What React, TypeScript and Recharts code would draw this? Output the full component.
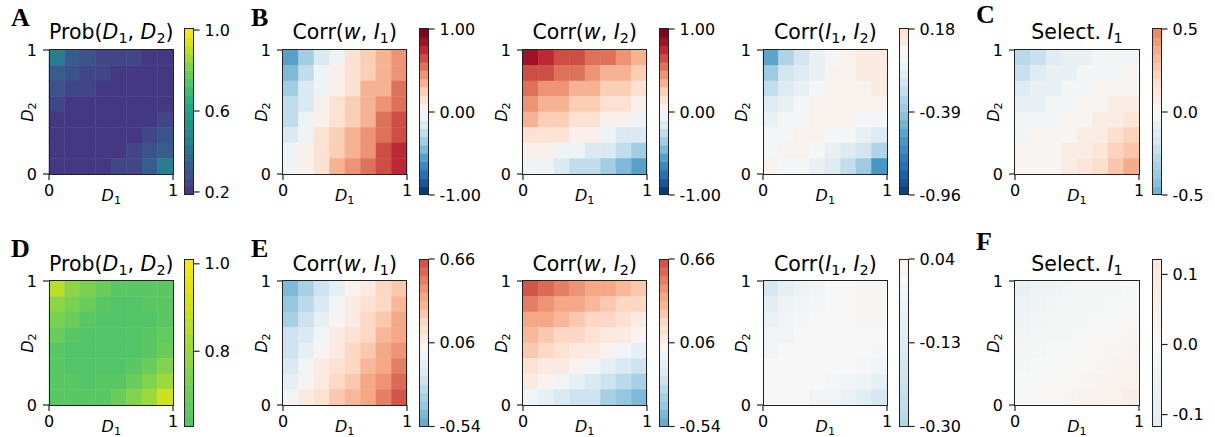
import React from 'react';
import { ScatterChart, Scatter, XAxis, YAxis } from 'recharts';

// centres of the 8x8 grid cells along D1 and D2
const GRID_POS = [0.0625, 0.1875, 0.3125, 0.4375, 0.5625, 0.6875, 0.8125, 0.9375];

// every grid: rows go from D2 = 1 (top) down to D2 = 0, columns D1 = 0 -> 1
const probTop = [
  [0.45, 0.34, 0.28, 0.25, 0.235, 0.23, 0.225, 0.225],
  [0.34, 0.28, 0.25, 0.235, 0.225, 0.215, 0.22, 0.225],
  [0.28, 0.25, 0.235, 0.21, 0.2, 0.2, 0.21, 0.22],
  [0.24, 0.225, 0.21, 0.2, 0.2, 0.2, 0.205, 0.215],
  [0.215, 0.205, 0.2, 0.2, 0.2, 0.2, 0.21, 0.23],
  [0.205, 0.2, 0.2, 0.2, 0.2, 0.21, 0.235, 0.27],
  [0.2, 0.2, 0.2, 0.205, 0.22, 0.24, 0.28, 0.34],
  [0.2, 0.2, 0.205, 0.215, 0.235, 0.26, 0.32, 0.46],
];
const corrWI1Top = [
  [-0.52, -0.31, -0.14, -0.01, 0.1, 0.21, 0.31, 0.42],
  [-0.44, -0.24, -0.09, 0.035, 0.14, 0.25, 0.36, 0.47],
  [-0.36, -0.18, -0.03, 0.08, 0.19, 0.3, 0.4, 0.51],
  [-0.28, -0.12, 0.01, 0.12, 0.23, 0.34, 0.45, 0.56],
  [-0.21, -0.06, 0.055, 0.17, 0.28, 0.39, 0.5, 0.61],
  [-0.15, -0.01, 0.1, 0.21, 0.32, 0.44, 0.55, 0.66],
  [-0.09, 0.03, 0.15, 0.26, 0.37, 0.49, 0.6, 0.71],
  [-0.04, 0.08, 0.19, 0.31, 0.42, 0.54, 0.65, 0.77],
];
const corrWI2Top = [
  [0.8, 0.72, 0.66, 0.61, 0.56, 0.51, 0.45, 0.38],
  [0.66, 0.6, 0.55, 0.5, 0.45, 0.4, 0.34, 0.27],
  [0.54, 0.49, 0.44, 0.39, 0.34, 0.29, 0.23, 0.17],
  [0.42, 0.37, 0.32, 0.28, 0.23, 0.18, 0.12, 0.06],
  [0.31, 0.26, 0.21, 0.17, 0.12, 0.07, 0.01, -0.05],
  [0.19, 0.15, 0.1, 0.055, 0.01, -0.04, -0.11, -0.18],
  [0.08, 0.03, -0.01, -0.06, -0.12, -0.19, -0.27, -0.36],
  [-0.04, -0.09, -0.15, -0.21, -0.28, -0.37, -0.47, -0.58],
];
const corrI1I2Top = [
  [-0.55, -0.3, -0.17, -0.08, -0.01, 0.06, 0.09, 0.12],
  [-0.35, -0.2, -0.11, -0.05, 0.01, 0.06, 0.08, 0.1],
  [-0.22, -0.13, -0.07, -0.02, 0.02, 0.05, 0.06, 0.07],
  [-0.14, -0.08, -0.03, 0.01, 0.03, 0.04, 0.04, 0.03],
  [-0.09, -0.04, 0.0, 0.03, 0.03, 0.02, 0.0, -0.04],
  [-0.04, 0.0, 0.02, 0.02, 0.0, -0.03, -0.07, -0.12],
  [-0.01, 0.02, 0.01, -0.02, -0.06, -0.11, -0.18, -0.28],
  [0.01, 0.0, -0.03, -0.08, -0.14, -0.22, -0.34, -0.58],
];
const selectTop = [
  [-0.3, -0.2, -0.13, -0.09, -0.06, -0.04, -0.02, -0.01],
  [-0.2, -0.14, -0.1, -0.07, -0.04, -0.02, -0.01, 0.01],
  [-0.13, -0.1, -0.07, -0.04, -0.02, 0.0, 0.02, 0.04],
  [-0.08, -0.06, -0.04, -0.02, 0.0, 0.03, 0.05, 0.08],
  [-0.04, -0.03, -0.01, 0.01, 0.03, 0.06, 0.1, 0.14],
  [-0.02, 0.0, 0.01, 0.03, 0.06, 0.1, 0.15, 0.21],
  [0.0, 0.01, 0.03, 0.05, 0.09, 0.14, 0.21, 0.29],
  [0.01, 0.02, 0.04, 0.07, 0.12, 0.18, 0.27, 0.38],
];

const probBottom = [
  [0.86, 0.78, 0.73, 0.69, 0.665, 0.655, 0.66, 0.665],
  [0.78, 0.73, 0.69, 0.66, 0.645, 0.64, 0.65, 0.66],
  [0.73, 0.69, 0.66, 0.645, 0.64, 0.64, 0.645, 0.665],
  [0.69, 0.66, 0.645, 0.64, 0.64, 0.64, 0.65, 0.68],
  [0.665, 0.645, 0.64, 0.64, 0.64, 0.645, 0.665, 0.7],
  [0.655, 0.645, 0.64, 0.64, 0.645, 0.665, 0.7, 0.745],
  [0.655, 0.65, 0.645, 0.65, 0.665, 0.7, 0.75, 0.81],
  [0.66, 0.655, 0.655, 0.665, 0.7, 0.745, 0.81, 0.91],
];
const corrWI1Bottom = [
  [-0.46, -0.32, -0.19, -0.08, 0.01, 0.1, 0.19, 0.27],
  [-0.38, -0.25, -0.13, -0.03, 0.06, 0.14, 0.23, 0.32],
  [-0.31, -0.19, -0.076, 0.02, 0.1, 0.19, 0.28, 0.37],
  [-0.24, -0.13, -0.026, 0.06, 0.15, 0.24, 0.33, 0.41],
  [-0.18, -0.07, 0.02, 0.11, 0.2, 0.28, 0.37, 0.46],
  [-0.12, -0.02, 0.07, 0.16, 0.24, 0.33, 0.42, 0.51],
  [-0.065, 0.03, 0.11, 0.2, 0.29, 0.38, 0.46, 0.55],
  [-0.015, 0.07, 0.16, 0.25, 0.34, 0.42, 0.51, 0.6],
];
const corrWI2Bottom = [
  [0.6, 0.55, 0.51, 0.46, 0.41, 0.37, 0.32, 0.27],
  [0.51, 0.46, 0.42, 0.37, 0.33, 0.28, 0.23, 0.19],
  [0.42, 0.38, 0.33, 0.28, 0.24, 0.19, 0.14, 0.1],
  [0.34, 0.29, 0.24, 0.2, 0.15, 0.1, 0.06, 0.01],
  [0.25, 0.2, 0.16, 0.11, 0.06, 0.02, -0.03, -0.08],
  [0.16, 0.11, 0.07, 0.02, -0.026, -0.076, -0.13, -0.19],
  [0.07, 0.03, -0.02, -0.07, -0.13, -0.19, -0.25, -0.32],
  [-0.015, -0.065, -0.12, -0.18, -0.24, -0.31, -0.38, -0.46],
];
const corrI1I2Bottom = [
  [-0.17, -0.09, -0.05, -0.03, -0.01, 0.0, 0.01, 0.02],
  [-0.11, -0.06, -0.04, -0.02, -0.01, 0.0, 0.01, 0.01],
  [-0.07, -0.04, -0.02, -0.01, 0.0, 0.0, 0.01, 0.01],
  [-0.04, -0.03, -0.01, 0.0, 0.0, 0.0, 0.0, 0.0],
  [-0.03, -0.01, 0.0, 0.0, 0.0, 0.0, -0.01, -0.02],
  [-0.01, 0.0, 0.0, 0.0, 0.0, -0.01, -0.02, -0.04],
  [0.0, 0.0, 0.0, -0.01, -0.02, -0.04, -0.06, -0.09],
  [0.0, 0.0, -0.01, -0.03, -0.04, -0.07, -0.1, -0.17],
];
const selectBottom = [
  [-0.07, -0.05, -0.04, -0.03, -0.02, -0.01, -0.01, 0.0],
  [-0.05, -0.04, -0.03, -0.02, -0.01, -0.01, 0.0, 0.0],
  [-0.04, -0.03, -0.02, -0.01, -0.01, 0.0, 0.0, 0.01],
  [-0.03, -0.02, -0.01, -0.01, 0.0, 0.01, 0.01, 0.02],
  [-0.02, -0.01, 0.0, 0.0, 0.01, 0.01, 0.02, 0.03],
  [-0.01, 0.0, 0.0, 0.01, 0.01, 0.02, 0.03, 0.04],
  [0.0, 0.0, 0.01, 0.01, 0.02, 0.03, 0.04, 0.05],
  [0.0, 0.01, 0.01, 0.02, 0.03, 0.04, 0.05, 0.07],
];

// colorbar ranges and tick labels
const CB_RANGES: [number, number][] = [
  [0.185, 1.005], [-1, 1], [-1, 1], [-0.96, 0.18], [-0.5, 0.5],
  [0.628, 1.011], [-0.54, 0.66], [-0.54, 0.66], [-0.3, 0.04], [-0.117, 0.122],
];
const CB_TICKS = [
  [0.2, 0.6, 1.0], [-1, 0, 1], [-1, 0, 1], [-0.96, -0.39, 0.18], [-0.5, 0, 0.5],
  [0.8, 1.0], [-0.54, 0.06, 0.66], [-0.54, 0.06, 0.66], [-0.3, -0.13, 0.04], [-0.1, 0, 0.1],
];
const CB_DECIMALS = [1, 2, 2, 2, 1, 1, 2, 2, 2, 1];
const LETTERS = ['A', 'B', '', '', 'C', 'D', 'E', '', '', 'F'];
const TITLES = ['prob', 'wI1', 'wI2', 'I1I2', 'sel', 'prob', 'wI1', 'wI2', 'I1I2', 'sel'];
const GRIDS = [
  probTop, corrWI1Top, corrWI2Top, corrI1I2Top, selectTop,
  probBottom, corrWI1Bottom, corrWI2Bottom, corrI1I2Bottom, selectBottom,
];

const VIRIDIS = [
  '#440154', '#471365', '#482475', '#463480', '#414487', '#3b528b', '#355f8d',
  '#2f6c8e', '#2a788e', '#25848e', '#21918c', '#1e9c89', '#22a884', '#2fb47c',
  '#44bf70', '#5ec962', '#7ad151', '#9bd93c', '#bddf26', '#dfe318', '#fde725',
];
const RDBU_R = [
  '#053061', '#2166ac', '#4393c3', '#92c5de', '#d1e5f0', '#f7f7f7',
  '#fddbc7', '#f4a582', '#d6604d', '#b2182b', '#67001f',
];
// colour normalisation of each panel (matplotlib vmin / vmax)
const NORMS: [number, number][] = [
  [0.05, 1.0], [-1, 1], [-1, 1], [-1, 1], [-1, 1],
  [-0.36, 1.01], [-1, 1], [-1, 1], [-1, 1], [-1, 1],
];

const hex = (h: string) => [1, 3, 5].map((i) => parseInt(h.slice(i, i + 2), 16));
function sampleMap(stops: string[], t: number) {
  const tt = Math.max(0, Math.min(1, t)) * (stops.length - 1);
  const i = Math.min(stops.length - 2, Math.floor(tt));
  const f = tt - i;
  const a = hex(stops[i]);
  const b = hex(stops[i + 1]);
  const c = a.map((v, k) => Math.round(v + (b[k] - v) * f));
  return `rgb(${c[0]},${c[1]},${c[2]})`;
}

const N_LEVELS = 20;
const PLOT = 124;
const CELL = PLOT / GRID_POS.length;
const Y_W = 50;
const TOP_PAD = 14;
const CB_W = 9.6;

const COL_LEFT = [49.3, 282.7, 522.7, 763.3, 1015];
const ROW_TOP = [50, 281];
const CB_LEFT = [184, 419, 659, 899.3, 1152.4];
const CB_TOP = [28.5, 259];
const CB_BOTTOM = [194.5, 426.5];
const TITLE_Y = [32, 263.5];
const LETTER_POS = [[11, 17.5], [251, 17.5], [0, 0], [0, 0], [976, 14.5], [11, 249], [251, 249], [0, 0], [0, 0], [976, 242]];

const TICK = { fontSize: 16, fill: '#000', fontFamily: 'DejaVu Sans' };
const FRAME = '#222';

function colorFor(idx: number) {
  const [lo, hi] = CB_RANGES[idx];
  const [n0, n1] = NORMS[idx];
  const stops = idx % 5 === 0 ? VIRIDIS : RDBU_R;
  const step = (hi - lo) / N_LEVELS;
  return (v: number) => {
    const band = Math.max(0, Math.min(N_LEVELS - 1, Math.floor((v - lo) / step)));
    const mid = lo + (band + 0.5) * step;
    return sampleMap(stops, (mid - n0) / (n1 - n0));
  };
}

const Sub = ({ children }: { children: React.ReactNode }) => (
  <span style={{ fontSize: '0.7em', position: 'relative', top: '0.3em' }}>{children}</span>
);
const It = ({ children }: { children: React.ReactNode }) => (
  <span style={{ fontStyle: 'italic' }}>{children}</span>
);

function titleText(kind: string) {
  if (kind === 'prob')
    return <>Prob(<It>D</It><Sub>1</Sub>, <It>D</It><Sub>2</Sub>)</>;
  if (kind === 'wI1') return <>Corr(<It>w</It>, <It>I</It><Sub>1</Sub>)</>;
  if (kind === 'wI2') return <>Corr(<It>w</It>, <It>I</It><Sub>2</Sub>)</>;
  if (kind === 'I1I2') return <>Corr(<It>I</It><Sub>1</Sub>, <It>I</It><Sub>2</Sub>)</>;
  return <>Select. <It>I</It><Sub>1</Sub></>;
}

function Heatmap({ idx, left, top }: { idx: number; left: number; top: number }) {
  const color = colorFor(idx);
  const data = GRIDS[idx].flatMap((row, r) =>
    row.map((v, c) => ({ x: GRID_POS[c], y: GRID_POS[GRID_POS.length - 1 - r], v }))
  );
  return (
    <div style={{ position: 'absolute', left: left - Y_W, top: top - TOP_PAD }}>
      <ScatterChart
        width={Y_W + PLOT + 8}
        height={TOP_PAD + PLOT + 32}
        margin={{ top: TOP_PAD, right: 8, bottom: 0, left: 0 }}
      >
        <XAxis
          type="number" dataKey="x" domain={[0, 1]} ticks={[0, 1]} height={32}
          axisLine={false} tickSize={6} tickMargin={5} tick={TICK}
          tickLine={{ stroke: FRAME, strokeWidth: 1.2 }} interval={0}
        />
        <YAxis
          type="number" dataKey="y" domain={[0, 1]} ticks={[0, 1]} width={Y_W}
          axisLine={false} tickSize={6} tickMargin={6} tick={TICK}
          tickLine={{ stroke: FRAME, strokeWidth: 1.2 }} interval={0}
        />
        <Scatter
          data={data}
          isAnimationActive={false}
          shape={(p: any) => (
            <rect
              x={p.cx - CELL / 2 - 0.25}
              y={p.cy - CELL / 2 - 0.25}
              width={CELL + 0.5}
              height={CELL + 0.5}
              fill={color(p.payload.v)}
            />
          )}
        />
      </ScatterChart>
      <div
        style={{
          position: 'absolute', left: Y_W - 0.6, top: TOP_PAD - 0.6,
          width: PLOT + 1.2, height: PLOT + 1.2, boxSizing: 'border-box',
          border: `1.2px solid ${FRAME}`, pointerEvents: 'none',
        }}
      />
    </div>
  );
}

function Colorbar({ idx, left, top, bottom }: { idx: number; left: number; top: number; bottom: number }) {
  const [lo, hi] = CB_RANGES[idx];
  const color = colorFor(idx);
  const h = bottom - top;
  const step = (hi - lo) / N_LEVELS;
  const bandPx = (h * step) / (hi - lo);
  const levels = Array.from({ length: N_LEVELS }, (_, i) => ({ x: 0.5, y: lo + (i + 0.5) * step }));
  const pad = 12;
  return (
    <div style={{ position: 'absolute', left, top: top - pad }}>
      <ScatterChart
        width={CB_W + 62}
        height={h + 2 * pad}
        margin={{ top: pad, right: 0, bottom: pad, left: 0 }}
      >
        <XAxis type="number" dataKey="x" domain={[0, 1]} hide height={0} />
        <YAxis
          type="number" dataKey="y" orientation="right" domain={[lo, hi]} allowDataOverflow
          ticks={CB_TICKS[idx]} interval={0} width={62} axisLine={false}
          tickSize={6} tickMargin={5} tick={TICK}
          tickLine={{ stroke: FRAME, strokeWidth: 1.2 }}
          tickFormatter={(v: number) => v.toFixed(CB_DECIMALS[idx])}
        />
        <Scatter
          data={levels}
          isAnimationActive={false}
          shape={(p: any) => (
            <rect
              x={p.cx - CB_W / 2}
              y={p.cy - bandPx / 2 - 0.3}
              width={CB_W}
              height={bandPx + 0.6}
              fill={color(p.payload.y)}
            />
          )}
        />
      </ScatterChart>
      <div
        style={{
          position: 'absolute', left: -0.5, top: pad - 0.5, width: CB_W + 1, height: h + 1,
          boxSizing: 'border-box', border: `1px solid ${FRAME}`, pointerEvents: 'none',
        }}
      />
    </div>
  );
}

export default function App() {
  const panels = GRIDS.map((_, idx) => {
    const col = idx % 5;
    const row = Math.floor(idx / 5);
    const left = COL_LEFT[col];
    const top = ROW_TOP[row];
    return (
      <React.Fragment key={idx}>
        <Heatmap idx={idx} left={left} top={top} />
        <Colorbar idx={idx} left={CB_LEFT[col]} top={CB_TOP[row]} bottom={CB_BOTTOM[row]} />
        <div
          style={{
            position: 'absolute', left: left + PLOT / 2, top: TITLE_Y[row],
            transform: 'translate(-50%, -50%)', fontSize: 20.5, whiteSpace: 'nowrap',
            lineHeight: 1,
          }}
        >
          {titleText(TITLES[idx])}
        </div>
        <div
          style={{
            position: 'absolute', left: left + PLOT / 2, top: top + PLOT + 22,
            transform: 'translate(-50%, -50%)', fontSize: 16, whiteSpace: 'nowrap', lineHeight: 1,
          }}
        >
          <It>D</It><Sub>1</Sub>
        </div>
        <div
          style={{
            position: 'absolute', left: left - 21, top: top + PLOT / 2,
            transform: 'translate(-50%, -50%) rotate(-90deg)', fontSize: 16, whiteSpace: 'nowrap',
            lineHeight: 1,
          }}
        >
          <It>D</It><Sub>2</Sub>
        </div>
        {LETTERS[idx] && (
          <div
            style={{
              position: 'absolute', left: LETTER_POS[idx][0], top: LETTER_POS[idx][1],
              transform: 'translateY(-50%)', fontFamily: '"Liberation Serif", serif',
              fontWeight: 700, fontSize: 26, lineHeight: 1,
            }}
          >
            {LETTERS[idx]}
          </div>
        )}
      </React.Fragment>
    );
  });
  return (
    <div
      style={{
        position: 'relative', width: 1215, height: 437, background: '#fff',
        fontFamily: '"DejaVu Sans", sans-serif', color: '#000', overflow: 'hidden',
      }}
    >
      <style>{'body { margin: 0; }'}</style>
      {panels}
    </div>
  );
}
